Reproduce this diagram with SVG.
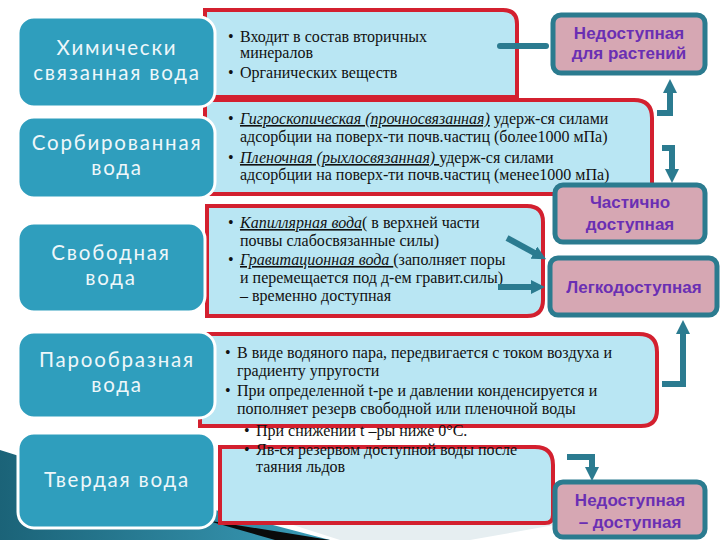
<svg xmlns="http://www.w3.org/2000/svg" width="720" height="540" viewBox="0 0 720 540">
<defs>
<style>
.cat{fill:#2f9ebd;stroke:#ffffff;stroke-width:3}
.cattxt{font-family:Lato,"Open Sans",sans-serif;font-size:20.5px;fill:#eef7fa;text-anchor:middle;letter-spacing:1.8px}
.info{fill:#b9e6f3;stroke:#d3202f;stroke-width:4}
.itxt{font-family:"Liberation Serif","Times New Roman",serif;font-size:16px;fill:#111}
.em{font-style:italic;text-decoration:underline}
.av{fill:#d6a7b3;stroke:#2b7b8f;stroke-width:5}
.avtxt{font-family:"Liberation Sans",Arial,sans-serif;font-weight:bold;font-size:17px;fill:#6a2fb3;text-anchor:middle}
.con{fill:none;stroke:#2b7b90;stroke-width:6;stroke-linejoin:miter}
</style>
<marker id="ah" viewBox="0 0 10 10" refX="5" refY="5" markerWidth="14" markerHeight="14" markerUnits="userSpaceOnUse" orient="auto">
<path d="M0,0 L10,5 L0,10 Z" fill="#2b7b90"/>
</marker>
<linearGradient id="sw" x1="0" y1="0" x2="1" y2="0">
<stop offset="0" stop-color="#1b6378"/>
<stop offset="1" stop-color="#3a9cb8"/>
</linearGradient>
</defs>
<rect width="720" height="540" fill="#ffffff"/>
<g id="decor">
<path d="M0,450 L70,472 L330,540 L0,540 Z" fill="url(#sw)"/>
<path d="M205,520 L330,540 L275,540 Z" fill="#0a0a0a"/>
<path d="M290,524 L560,524 L470,540 L340,540 Z" fill="#e6eef1"/>
</g>
<g id="info-chem">
<path class="info" d="M205,10 H503 Q517,10 517,24 V97 H205 Z"/>
<text class="itxt"><tspan x="228" y="42">•</tspan><tspan x="240" y="42">Входит в состав вторичных</tspan></text>
<text class="itxt" x="240" y="58">минералов</text>
<text class="itxt"><tspan x="228" y="78">•</tspan><tspan x="240" y="78">Органических веществ</tspan></text>
</g>
<g id="info-sorb">
<path class="info" d="M205,100 H634 Q652,100 652,118 V194 H205 Z"/>
<text class="itxt"><tspan x="228" y="124">•</tspan><tspan x="240" y="124" class="em">Гигроскопическая (прочносвязанная)</tspan><tspan> удерж-ся силами</tspan></text>
<text class="itxt" x="240" y="142">адсорбции на поверх-ти почв.частиц (более1000 мПа)</text>
<text class="itxt"><tspan x="228" y="163">•</tspan><tspan x="240" y="163" class="em">Пленочная (рыхлосвязанная) </tspan><tspan>удерж-ся силами</tspan></text>
<text class="itxt" x="240" y="180">адсорбции на поверх-ти почв.частиц (менее1000 мПа)</text>
</g>
<g id="info-free">
<path class="info" d="M207,206 H527 Q543,206 543,222 V300 Q543,316 527,316 H207 Z"/>
<text class="itxt"><tspan x="228" y="228">•</tspan><tspan x="240" y="228" class="em">Капиллярная вода</tspan><tspan>( в верхней части</tspan></text>
<text class="itxt" x="240" y="246">почвы слабосвязанные силы)</text>
<text class="itxt"><tspan x="228" y="265">•</tspan><tspan x="240" y="265" class="em">Гравитационная вода </tspan><tspan>(заполняет поры</tspan></text>
<text class="itxt" x="240" y="283">и перемещается под д-ем гравит.силы)</text>
<text class="itxt" x="240" y="301">– временно доступная</text>
</g>
<g id="info-vapor">
<path class="info" d="M200,334 H639 Q657,334 657,352 V410 Q657,426 641,426 H200 Z"/>
<text class="itxt"><tspan x="225" y="358">•</tspan><tspan x="237" y="358">В виде водяного пара, передвигается с током воздуха и</tspan></text>
<text class="itxt" x="237" y="376">градиенту упругости</text>
<text class="itxt"><tspan x="225" y="396">•</tspan><tspan x="237" y="396">При определенной t-ре и давлении конденсируется и</tspan></text>
<text class="itxt" x="237" y="414">пополняет резерв свободной или пленочной воды</text>
</g>
<g id="info-solid">
<path class="info" d="M220,447 H535 Q553,447 553,465 V515 Q553,523 545,523 H220 Z"/>
<text class="itxt"><tspan x="244" y="436">•</tspan><tspan x="256" y="436">При снижении t –ры ниже 0°С.</tspan></text>
<text class="itxt"><tspan x="244" y="455">•</tspan><tspan x="256" y="455">Яв-ся резервом доступной воды после</tspan></text>
<text class="itxt" x="256" y="472">таяния льдов</text>
</g>
<g id="cat-chem">
<rect class="cat" x="18" y="17" width="197" height="90" rx="16"/>
<text class="cattxt" x="117" y="55">Химически</text>
<text class="cattxt" x="117" y="80">связанная вода</text>
</g>
<g id="cat-sorb">
<rect class="cat" x="18" y="117" width="197" height="81" rx="16"/>
<text class="cattxt" x="117" y="150">Сорбированная</text>
<text class="cattxt" x="117" y="175">вода</text>
</g>
<g id="cat-free">
<rect class="cat" x="18" y="223" width="187" height="89" rx="16"/>
<text class="cattxt" x="111" y="260">Свободная</text>
<text class="cattxt" x="111" y="285">вода</text>
</g>
<g id="cat-vapor">
<rect class="cat" x="18" y="332" width="197" height="86" rx="16"/>
<text class="cattxt" x="117" y="367">Парообразная</text>
<text class="cattxt" x="117" y="392">вода</text>
</g>
<g id="cat-solid">
<rect class="cat" x="18" y="433" width="197" height="95" rx="16"/>
<text class="cattxt" x="117" y="487">Твердая вода</text>
</g>
<g id="av-unavail">
<rect class="av" x="553" y="15" width="152" height="58" rx="8"/>
<text class="avtxt" x="629" y="39">Недоступная</text>
<text class="avtxt" x="629" y="59">для растений</text>
</g>
<g id="av-partial">
<rect class="av" x="555" y="185" width="150" height="57" rx="8"/>
<text class="avtxt" x="630" y="208">Частично</text>
<text class="avtxt" x="630" y="230">доступная</text>
</g>
<g id="av-easy">
<rect class="av" x="550" y="258" width="167" height="57" rx="8"/>
<text class="avtxt" x="634" y="293">Легкодоступная</text>
</g>
<g id="av-unavail-avail">
<rect class="av" x="555" y="482" width="150" height="55" rx="8"/>
<text class="avtxt" x="630" y="506">Недоступная</text>
<text class="avtxt" x="630" y="528">– доступная</text>
</g>
<g id="connectors">
<line class="con" x1="500" y1="46" x2="546" y2="46" stroke-linecap="round"/>
<polyline class="con" points="657,113 670,113 670,86" marker-end="url(#ah)"/>
<polyline class="con" points="662,148 672,148 672,176" marker-end="url(#ah)"/>
<line class="con" x1="507" y1="238" x2="540" y2="256" marker-end="url(#ah)"/>
<line class="con" x1="498" y1="287" x2="538" y2="287" marker-end="url(#ah)"/>
<polyline class="con" points="662,384 683,384 683,327" marker-end="url(#ah)"/>
<polyline class="con" points="567,457 592,457 592,474" marker-end="url(#ah)"/>
</g>
</svg>
